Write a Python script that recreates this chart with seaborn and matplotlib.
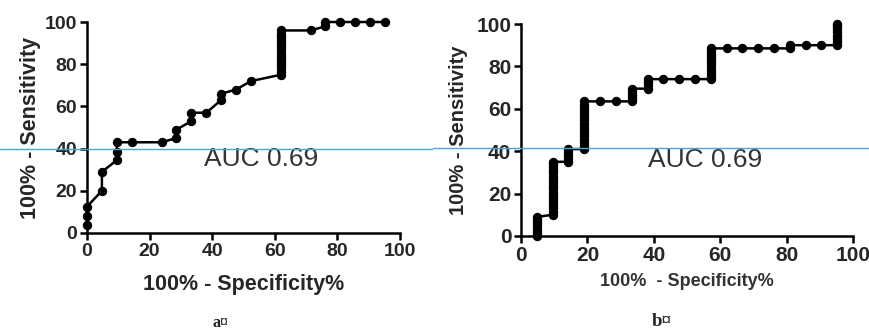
import matplotlib
matplotlib.use('Agg')
import matplotlib.pyplot as plt
import seaborn as sns
from matplotlib.lines import Line2D

# ROC points, panel a (100% - specificity, sensitivity)
a_fpr = [0, 0, 0, 4.76, 4.76, 9.52, 9.52, 9.52, 14.29, 23.81, 28.57, 28.57,
         33.33, 33.33, 38.1, 42.86, 42.86, 47.62, 52.38,
         61.9, 61.9, 61.9, 61.9, 61.9, 61.9, 61.9, 61.9, 61.9, 61.9, 61.9,
         61.9, 61.9, 61.9, 61.9,
         71.43, 76.19, 76.19, 80.95, 85.71, 90.48, 95.24]
a_sens = [4, 8, 12.5, 20, 29, 34.5, 38.5, 43, 43, 43, 45, 49,
          53, 57, 57, 63, 66, 68, 72,
          75, 76.5, 78, 79.5, 81, 82.5, 84, 85.5, 87, 88.5, 90,
          91.5, 93, 94.5, 96,
          96, 98, 100, 100, 100, 100, 100]

# ROC points, panel b
b_fpr = [4.76] * 7 + [9.52] * 18 + [14.29] * 5 + [19.05] * 16 + [23.81, 28.57] \
    + [33.33] * 5 + [38.1] * 4 + [42.86, 47.62, 52.38] + [57.14] * 11 \
    + [61.9, 66.67, 71.43, 76.19] + [80.95] * 2 + [85.71, 90.48] + [95.24] * 8
b_sens = [0, 1.5, 3, 4.5, 6, 7.5, 9,
          10, 11.5, 13, 14.5, 16, 17.5, 19, 20.5, 22, 23.5, 25, 26.5, 28, 29.5,
          31, 32.5, 34, 35,
          35, 36.5, 38, 39.5, 41,
          41, 42.5, 44, 45.5, 47, 48.5, 50, 51.5, 53, 54.5, 56, 57.5, 59, 60.5, 62, 63.5,
          63.5, 63.5,
          63.5, 65, 66.5, 68, 69.5,
          69.5, 71, 72.5, 74,
          74, 74, 74,
          74, 75.5, 77, 78.5, 80, 81.5, 83, 84.5, 86, 87.5, 88.5,
          88.5, 88.5, 88.5, 88.5,
          88.5, 90,
          90, 90,
          90, 91.5, 93, 94.5, 96, 97.5, 99, 100]

ticks = [0, 20, 40, 60, 80, 100]
auc_text = 'AUC 0.69'

sns.set_style('ticks')
plt.rcParams['font.family'] = ['Liberation Sans', 'DejaVu Sans']

fig = plt.figure(figsize=(8.7, 3.32), dpi=100)
ax_a = fig.add_axes([0.1, 0.2982, 0.3598, 0.6355])
ax_b = fig.add_axes([0.5989, 0.2892, 0.3816, 0.6385])

for ax, xs, ys, tsize in [(ax_a, a_fpr, a_sens, 14), (ax_b, b_fpr, b_sens, 15)]:
    sns.lineplot(x=xs, y=ys, sort=False, estimator=None, ax=ax, color='black',
                 linewidth=1.8, marker='o', markersize=6, markeredgecolor='black',
                 clip_on=False, zorder=5)
    ax.set_xlim(0, 100)
    ax.set_ylim(0, 100)
    ax.set_xticks(ticks)
    ax.set_yticks(ticks)
    for s in ['top', 'right']:
        ax.spines[s].set_visible(False)
    for s in ['left', 'bottom']:
        ax.spines[s].set_linewidth(1.8)
        ax.spines[s].set_color('black')
    ax.tick_params(width=1.8, length=5, labelsize=tsize, color='black', pad=2)
    for lab in ax.get_xticklabels() + ax.get_yticklabels():
        lab.set_fontweight('bold')

ax_a.set_xlabel('100% - Specificity%', fontsize=15.5, fontweight='bold', labelpad=10)
ax_a.set_ylabel('100% - Sensitivity', fontsize=15.5, fontweight='bold', labelpad=3)
ax_b.set_xlabel('100%  - Specificity%', fontsize=13, fontweight='semibold',
                color='#333333', labelpad=6)
ax_b.set_ylabel('100% - Sensitivity', fontsize=14.5, fontweight='bold', labelpad=6)

ax_a.text(55.6, 35, auc_text, fontsize=19, color='#333333', ha='center', va='center')
ax_b.text(55.4, 36, auc_text, fontsize=19, color='#333333', ha='center', va='center')

# thin blue rule across both panels
fig.add_artist(Line2D([0, 432 / 870], [1 - 148.7 / 332] * 2, color='#4FA3DB',
                      linewidth=1.0, transform=fig.transFigure))
fig.add_artist(Line2D([433 / 870, 1], [1 - 147.5 / 332] * 2, color='#4FA3DB',
                      linewidth=1.0, transform=fig.transFigure))

fig.text(220 / 870, 1 - 323 / 332, 'a¤', fontsize=11.5, fontweight='bold',
         family=['Liberation Serif', 'DejaVu Serif'], ha='center', va='center')
fig.text(662 / 870, 1 - 321 / 332, 'b¤', fontsize=13.5, fontweight='bold',
         family=['Liberation Serif', 'DejaVu Serif'], ha='center', va='center')

plt.savefig('out.png', dpi=100)
plt.close()
